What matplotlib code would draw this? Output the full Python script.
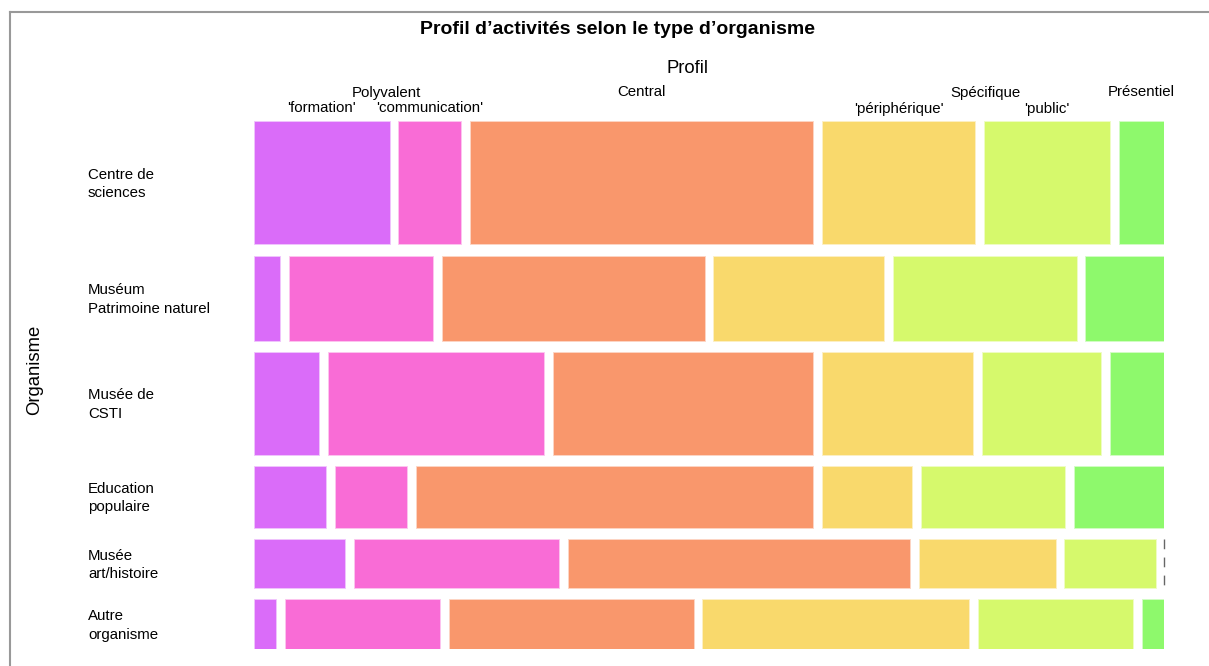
import numpy as np
import matplotlib.pyplot as plt
from matplotlib.patches import Rectangle
from matplotlib.lines import Line2D

plt.rcParams['font.family'] = ['Liberation Sans', 'DejaVu Sans']

# data: counts per organisme (rows) and profil (columns)
organismes = ['Centre de\nsciences', 'Muséum\nPatrimoine naturel', 'Musée de\nCSTI',
              'Education\npopulaire', 'Musée\nart/histoire', 'Autre\norganisme']
profils = ["'formation'", "'communication'", 'Central', "'périphérique'", "'public'", 'Présentiel']
groupes = ['Polyvalent', 'Spécifique']

formation = [15, 2, 6, 4, 4, 1]
communication = [7, 11, 20, 4, 9, 7]
central = [38, 20, 24, 22, 15, 11]
peripherique = [17, 13, 14, 5, 6, 12]
public = [14, 14, 11, 8, 4, 7]
presentiel = [5, 6, 5, 5, 0, 1]

couleurs = ['#DA6CF9', '#F96CD6', '#F9976C', '#F9D96C', '#D6F96C', '#8EF96C']

counts = np.array([formation, communication, central, peripherique, public, presentiel]).T

fig = plt.figure(figsize=(12.09, 6.66), dpi=100)
W, H = 1209, 666

# outer frame
fig.add_artist(Line2D([10 / W, 10 / W], [0, 1 - 12 / H], color='#999999', lw=1.5, transform=fig.transFigure))
fig.add_artist(Line2D([10 / W, 1], [1 - 12 / H, 1 - 12 / H], color='#999999', lw=1.5, transform=fig.transFigure))

ax = fig.add_axes([254 / W, (666 - 649) / H, 910 / W, 528 / H])
ax.set_xlim(0, 1)
ax.set_ylim(1, 0)
ax.axis('off')

gx = 8.5 / 910
gy = 11.2 / 528
n_rows, n_cols = counts.shape
row_tot = counts.sum(axis=1)
haut = (1 - gy * (n_rows - 1)) * row_tot / row_tot.sum()

y = 0
centres_y = []
x_first = []
for i in range(n_rows):
    larg = (1 - gx * (n_cols - 1)) * counts[i] / row_tot[i]
    x = 0
    xs = []
    for j in range(n_cols):
        if counts[i, j] == 0:
            ax.plot([x, x], [y, y + haut[i]], color='#666666', lw=1, ls=(0, (7, 6)), clip_on=False)
        else:
            ax.add_patch(Rectangle((x, y), larg[j], haut[i], facecolor=couleurs[j],
                                   edgecolor='#FFFFFF', lw=0.6, alpha=1))
            ax.add_patch(Rectangle((x, y), larg[j], haut[i], facecolor='none',
                                   edgecolor=couleurs[j], lw=0.5, alpha=0.5))
        xs.append((x, x + larg[j]))
        x += larg[j] + gx
    x_first.append(xs)
    centres_y.append(y + haut[i] / 2)
    y += haut[i] + gy

# row labels
for i, nom in enumerate(organismes):
    ax.text(-166 / 910, centres_y[i] + 1.5 / 528, nom, ha='left', va='center', fontsize=10.8,
            linespacing=1.4, clip_on=False)

# column labels from the first row
xs = x_first[0]
y_bas = (108.5 - 121) / 528
y_haut = (92.5 - 121) / 528
for j, p in enumerate(profils):
    c = (xs[j][0] + xs[j][1]) / 2
    if p in ('Central', 'Présentiel'):
        ax.text(c, y_haut, p, ha='center', va='center', fontsize=10.8, clip_on=False)
    else:
        ax.text(c, y_bas, p, ha='center', va='center', fontsize=10.8, clip_on=False)
ax.text((xs[0][1] + xs[1][0]) / 2 - 0.008, y_haut, groupes[0], ha='center', va='center', fontsize=10.8, clip_on=False)
ax.text((xs[3][1] + xs[4][0]) / 2 + 0.007, y_haut, groupes[1], ha='center', va='center', fontsize=10.8, clip_on=False)

fig.text(687 / W, 1 - 68.5 / H, 'Profil', ha='center', va='center', fontsize=13.3)
fig.text(35 / W, 1 - 370 / H, 'Organisme', ha='center', va='center', fontsize=13.3, rotation=90)
fig.text(617 / W, 1 - 29.5 / H, 'Profil d’activités selon le type d’organisme', ha='center', va='center',
         fontsize=14, fontweight='bold')

fig.savefig('out.png', dpi=100)
